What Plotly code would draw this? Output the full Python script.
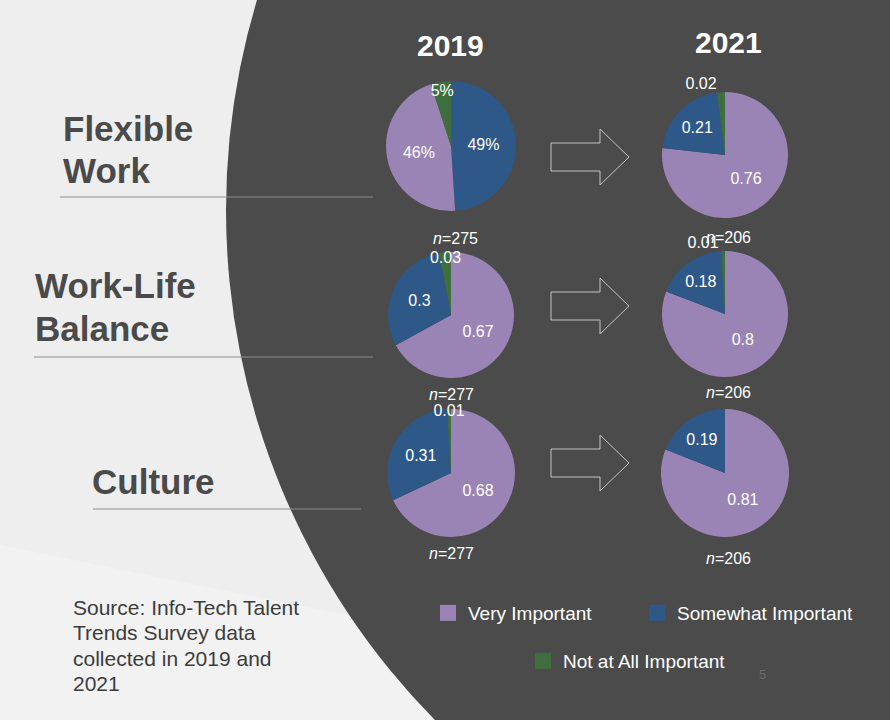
import plotly.graph_objects as go

categories = ["Very Important", "Somewhat Important", "Not at All Important"]
colors = ["#9a84b5", "#2d5888", "#3f6f3f"]

topics = ["Flexible Work", "Work-Life Balance", "Culture"]
years = ["2019", "2021"]

flex_2019 = [0.46, 0.49, 0.05]
flex_2021 = [0.76, 0.21, 0.02]
wlb_2019 = [0.67, 0.30, 0.03]
wlb_2021 = [0.80, 0.18, 0.01]
culture_2019 = [0.68, 0.31, 0.01]
culture_2021 = [0.81, 0.19, 0.00]

n_2019 = [275, 277, 277]
n_2021 = [206, 206, 206]

source_lines = ["Source: Info-Tech Talent", "Trends Survey data",
                "collected in 2019 and", "2021"]

W, H = 890, 720
FONT = "Liberation Sans, Arial, sans-serif"
DARK = "#4a4b4a"


def px_dom(cx, cy, r):
    return dict(x=[(cx - r) / W, (cx + r) / W], y=[1 - (cy + r) / H, 1 - (cy - r) / H])


fig = go.Figure()

# pie centres (px) and radius for each row / year
centres = {
    (0, 0): (451, 146, 65), (0, 1): (725, 155, 63),
    (1, 0): (451, 315, 63), (1, 1): (725, 314, 63),
    (2, 0): (451, 473, 64), (2, 1): (725, 473, 64),
}
pies = {
    (0, 0): flex_2019, (0, 1): flex_2021,
    (1, 0): wlb_2019, (1, 1): wlb_2021,
    (2, 0): culture_2019, (2, 1): culture_2021,
}

for (row, col), vals in pies.items():
    order = [1, 0, 2] if (row, col) == (0, 0) else [0, 1, 2]
    labels = [categories[i] for i in order]
    values = [vals[i] for i in order]
    if (row, col) == (0, 0):
        text = [f"{round(v * 100)}%" for v in values]
    else:
        text = [f"{v:g}" if v > 0 else "" for v in values]
    pos = ["inside", "inside", "inside"] if col == 0 else ["inside", "inside", "outside"]
    cx, cy, r = centres[(row, col)]
    fig.add_trace(go.Pie(
        labels=labels, values=values, text=text, textinfo="text",
        textposition=pos, insidetextorientation="horizontal",
        marker=dict(colors=[colors[i] for i in order], line=dict(width=0)),
        sort=False, direction="clockwise", rotation=0,
        domain=px_dom(cx, cy, r), showlegend=False, hoverinfo="label+value",
        textfont=dict(family=FONT, size=16, color="white"),
        outsidetextfont=dict(family=FONT, size=16, color="white"),
    ))

# legend entries, one legend box each
legend_names = ["legend", "legend2", "legend3"]
for cat, c, lg in zip(categories, colors, legend_names):
    fig.add_trace(go.Scatter(
        x=[None], y=[None], mode="markers", name=cat,
        marker=dict(symbol="square", size=20, color=c), legend=lg,
    ))

shapes = [
    dict(type="path", path="M0,545 L520,650 L520,720 L0,720 Z",
         fillcolor="#f2f2f2", line_width=0, layer="below"),
    dict(type="circle", x0=226, x1=1680, y0=-517, y1=937,
         fillcolor=DARK, line_width=0, layer="below"),
    dict(type="line", x0=60, x1=373, y0=197, y1=197, line=dict(color="#8c8c8c", width=1)),
    dict(type="line", x0=34, x1=373, y0=357, y1=357, line=dict(color="#8c8c8c", width=1)),
    dict(type="line", x0=93, x1=361, y0=509, y1=509, line=dict(color="#8c8c8c", width=1)),
]
for ym in [157, 306, 463]:
    shapes.append(dict(
        type="path",
        path=f"M551,{ym-14} L600,{ym-14} L600,{ym-28} L629,{ym} L600,{ym+28} L600,{ym+14} L551,{ym+14} Z",
        line=dict(color="#c4c4c4", width=1), fillcolor="rgba(0,0,0,0)"))

annotations = []
for yr, x, y in zip(years, [450, 728], [45, 42]):
    annotations.append(dict(text=f"<b>{yr}</b>", x=x, y=y, showarrow=False,
                            font=dict(family=FONT, size=30, color="white")))

label_pos = [
    [("Flexible", 61, 128), ("Work", 61, 170)],
    [("Work-Life", 33, 285), ("Balance", 33, 328)],
    [("Culture", 90, 481)],
]
for lines in label_pos:
    for t, x, y in lines:
        annotations.append(dict(text=f"<b>{t}</b>", x=x, y=y, xanchor="left", showarrow=False,
                                font=dict(family=FONT, size=35, color="#4a4a4a")))

n_pos = [[(455, 238), (728, 237)], [(451, 394), (728, 392)], [(451, 553), (728, 558)]]
for row in range(3):
    for col, nval in enumerate([n_2019[row], n_2021[row]]):
        x, y = n_pos[row][col]
        annotations.append(dict(text=f"<i>n</i>={nval}", x=x, y=y, showarrow=False,
                                font=dict(family=FONT, size=16, color="white")))

for i, t in enumerate(source_lines):
    annotations.append(dict(text=t, x=71, y=607 + i * 25.5, xanchor="left", showarrow=False,
                            font=dict(family=FONT, size=21, color="#3c3c3c")))

annotations.append(dict(text="5", x=762, y=674, showarrow=False,
                        font=dict(family=FONT, size=13, color="#6c6c6c")))

leg_font = dict(family=FONT, size=19, color="white")
fig.update_layout(
    width=W, height=H, margin=dict(l=0, r=0, t=0, b=0),
    paper_bgcolor="#eeeeee", plot_bgcolor="rgba(0,0,0,0)",
    xaxis=dict(range=[0, W], visible=False, fixedrange=True),
    yaxis=dict(range=[H, 0], visible=False, fixedrange=True),
    shapes=shapes, annotations=annotations,
    uniformtext=dict(minsize=16, mode="show"),
    legend=dict(x=428 / W, y=1 - 613 / H, xanchor="left", yanchor="middle",
                bgcolor="rgba(0,0,0,0)", font=leg_font),
    legend2=dict(x=637 / W, y=1 - 613 / H, xanchor="left", yanchor="middle",
                 bgcolor="rgba(0,0,0,0)", font=leg_font),
    legend3=dict(x=523 / W, y=1 - 661 / H, xanchor="left", yanchor="middle",
                 bgcolor="rgba(0,0,0,0)", font=leg_font),
)

fig.write_html("out.html", config={"displayModeBar": False},
               post_script="document.body.style.margin='0';")
